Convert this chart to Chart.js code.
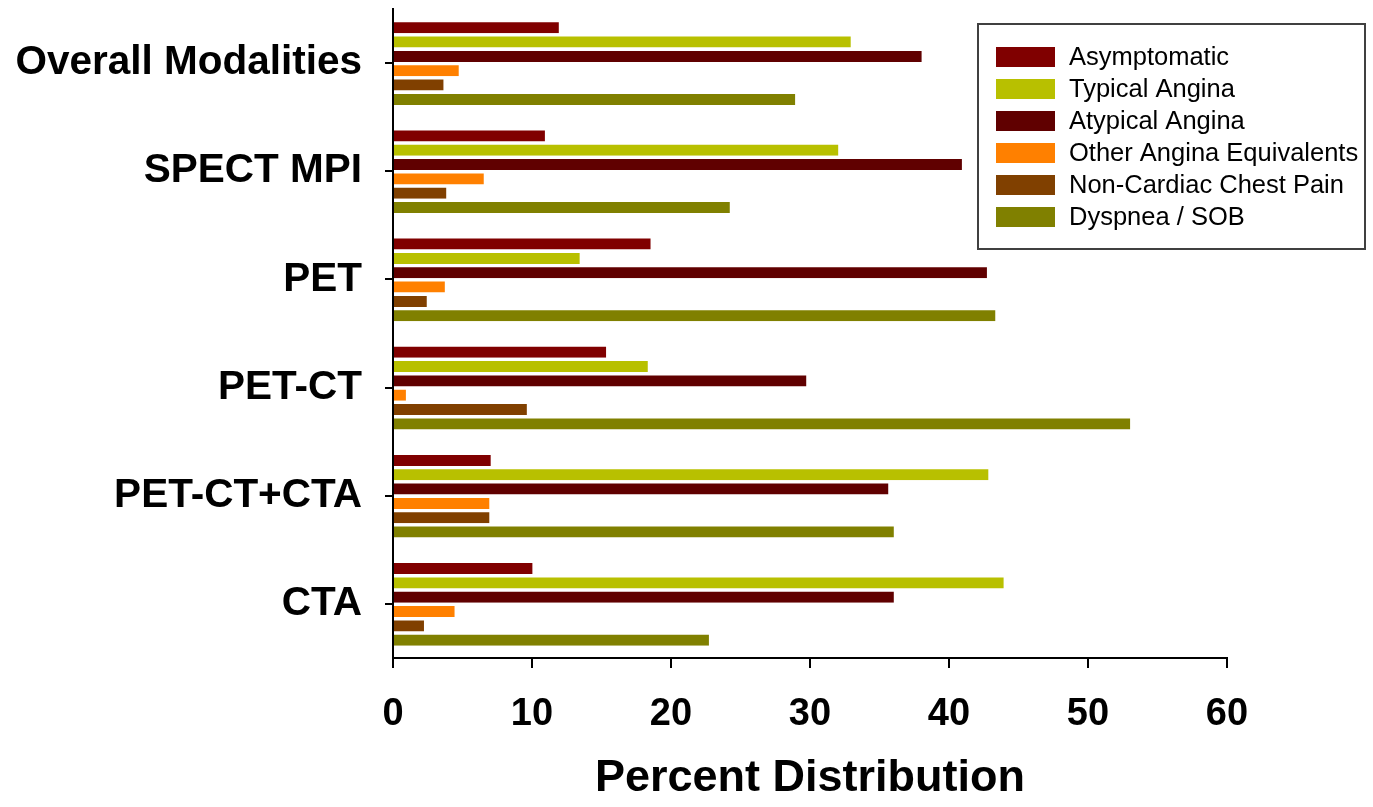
<!DOCTYPE html>
<html>
<head>
<meta charset="utf-8">
<script src="https://cdn.jsdelivr.net/npm/chart.js@4.4.1/dist/chart.umd.min.js"></script>
<style>
  html, body { margin: 0; padding: 0; background: #fff; }
  #wrap { width: 1373px; height: 807px; position: relative; }
</style>
</head>
<body>
<div id="wrap"><canvas id="c" width="1373" height="807"></canvas></div>
<script>
const categories = ["Overall Modalities", "SPECT MPI", "PET", "PET-CT", "PET-CT+CTA", "CTA"];
const seriesNames = ["Asymptomatic", "Typical Angina", "Atypical Angina", "Other Angina Equivalents", "Non-Cardiac Chest Pain", "Dyspnea / SOB"];
const asymptomatic   = [12.0, 11.0, 18.6, 15.4, 7.1, 10.1];
const typicalAngina  = [33.0, 32.1, 13.5, 18.4, 42.9, 44.0];
const atypicalAngina = [38.1, 41.0, 42.8, 29.8, 35.7, 36.1];
const otherAngina    = [4.8, 6.6, 3.8, 1.0, 7.0, 4.5];
const nonCardiac     = [3.7, 3.9, 2.5, 9.7, 7.0, 2.3];
const dyspnea        = [29.0, 24.3, 43.4, 53.1, 36.1, 22.8];
const xTicks = [0, 10, 20, 30, 40, 50, 60];
const colors = ["#800000", "#B8C000", "#600000", "#FF8000", "#804000", "#808000"];

const seriesValues = [asymptomatic, typicalAngina, atypicalAngina, otherAngina, nonCardiac, dyspnea];
const FONT = "'Liberation Sans', Arial, Helvetica, sans-serif";

const legendPlugin = {
  id: 'boxLegend',
  afterDraw(chart) {
    const ctx = chart.ctx;
    ctx.save();
    const bx = 978, by = 24, bw = 387, bh = 225;
    ctx.fillStyle = '#fff';
    ctx.fillRect(bx, by, bw, bh);
    ctx.strokeStyle = '#404040';
    ctx.lineWidth = 2;
    ctx.strokeRect(bx, by, bw, bh);
    chart.data.datasets.forEach((ds, i) => {
      const cy = 57 + i * 32;
      ctx.fillStyle = ds.backgroundColor;
      ctx.fillRect(996, cy - 10, 59, 20);
      ctx.fillStyle = '#000';
      ctx.font = "25.5px " + FONT;
      ctx.textBaseline = 'middle';
      ctx.textAlign = 'left';
      ctx.fillText(ds.label, 1069, cy + 1);
    });
    ctx.restore();
  }
};

new Chart(document.getElementById('c'), {
  type: 'bar',
  data: {
    labels: categories,
    datasets: seriesNames.map((n, i) => ({
      label: n,
      data: seriesValues[i],
      backgroundColor: colors[i],
      borderColor: 'rgba(255,255,255,0.45)',
      borderWidth: { top: 1, right: 1, bottom: 0, left: 0 },
      barPercentage: 0.84,
      categoryPercentage: 0.795
    }))
  },
  options: {
    indexAxis: 'y',
    responsive: false,
    animation: false,
    layout: { padding: { top: 9, right: 146, left: 0, bottom: 0 } },
    plugins: {
      legend: { display: false },
      tooltip: { enabled: false }
    },
    scales: {
      x: {
        min: 0, max: 60,
        afterFit(s) { s.height = 149; s.paddingLeft = 0; s.paddingRight = 0; },
        afterBuildTicks(s) { s.ticks = xTicks.map(v => ({ value: v })); },
        ticks: { color: '#000', font: { family: FONT, size: 38, weight: 'bold' }, padding: 24, maxRotation: 0 },
        grid: { drawOnChartArea: false, tickLength: 10, color: '#000', lineWidth: 2 },
        border: { color: '#000', width: 2 },
        title: {
          display: true, text: 'Percent Distribution', color: '#000',
          font: { family: FONT, size: 45, weight: 'bold' },
          padding: { top: 0, bottom: 1 }
        }
      },
      y: {
        afterFit(s) { s.width = 393; s.paddingTop = 0; s.paddingBottom = 0; },
        ticks: { color: '#000', font: { family: FONT, size: 40.5, weight: 'bold' }, padding: 23 },
        grid: { drawOnChartArea: false, offset: false, tickLength: 8, color: '#000', lineWidth: 2 },
        border: { color: '#000', width: 2 }
      }
    }
  },
  plugins: [legendPlugin]
});
</script>
</body>
</html>
